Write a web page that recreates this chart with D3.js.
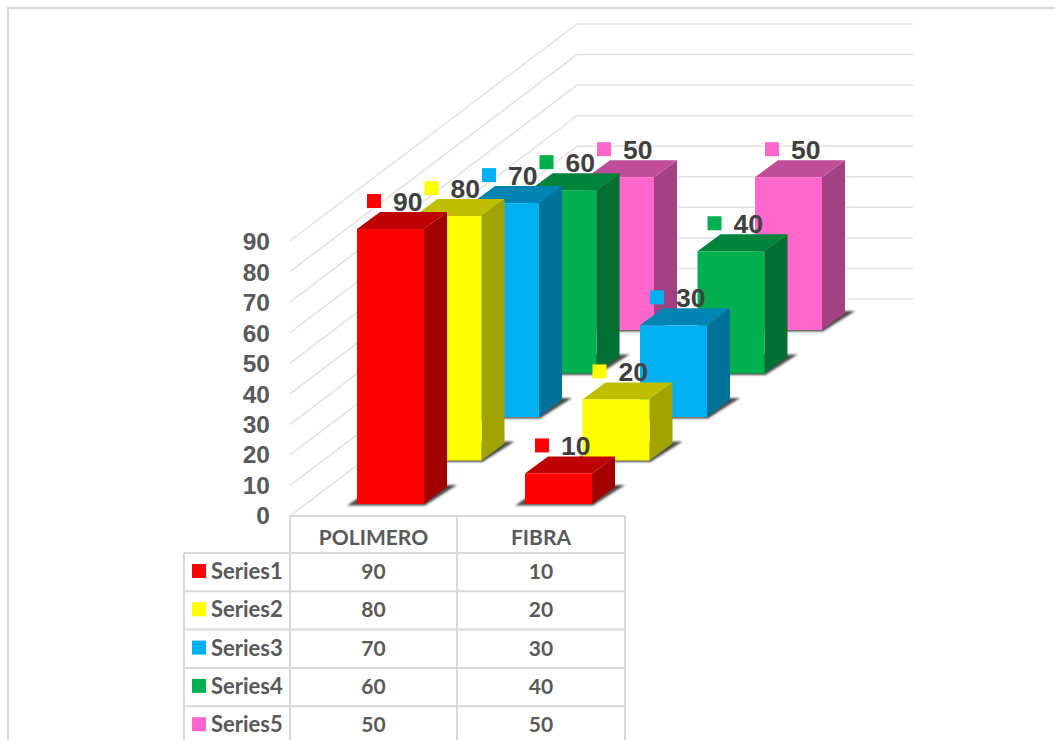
<!DOCTYPE html>
<html>
<head>
    <meta charset="utf-8">
    <title>3D Column Chart</title>
    <script src="https://d3js.org/d3.v7.min.js"></script>
    <style>
        body {
            margin: 0;
            padding: 0;
            background-color: #ffffff;
            overflow: hidden;
        }
        .table-text {
            font-family: Lato, sans-serif;
            font-weight: 700;
            font-size: 21px;
            fill: #595959;
        }
        .series-text {
            font-size: 22px;
        }
        .label-text {
            font-family: "Liberation Sans", Arial, sans-serif;
            font-weight: 700;
            font-size: 26.5px;
            fill: #404040;
        }
        .tick text {
            font-family: "Liberation Sans", Arial, sans-serif;
            font-weight: 700;
            font-size: 24.5px;
            fill: #595959;
        }
    </style>
</head>
<body>
    <div id="chart"></div>

    <script>
        var categories = ["POLIMERO", "FIBRA"];
        var seriesNames = ["Series1", "Series2", "Series3", "Series4", "Series5"];
        var polimero = [90, 80, 70, 60, 50];
        var fibra = [10, 20, 30, 40, 50];
        var seriesColors = ["#ff0000", "#ffff00", "#00b0f0", "#00b050", "#ff66cc"];
        var ticks = [0, 10, 20, 30, 40, 50, 60, 70, 80, 90];

        var width = 1055, height = 740;
        var gridColor = "#e2e2e2", tableColor = "#d9d9d9";

        var svg = d3.select("#chart")
            .append("svg")
            .attr("width", width)
            .attr("height", height)
            .style("display", "block");

        // blur for the floor shadows
        svg.append("defs").append("filter")
            .attr("id", "soft")
            .append("feGaussianBlur")
            .attr("stdDeviation", 1);

        // outer chart border, only top and left are in the picture
        svg.append("path")
            .attr("d", "M8," + height + "L8,8L" + width + ",8")
            .attr("fill", "none")
            .attr("stroke", tableColor)
            .attr("stroke-width", 2);

        // value -> height in pixels, and the shifts for category and series depth
        var heightScale = d3.scaleLinear().domain([0, 90]).range([0, 275]);
        var catScale = d3.scalePoint().domain(categories).range([357, 525]);
        var depthX = d3.scaleLinear().domain([0, 4]).range([0, 230]);
        var depthY = d3.scaleLinear().domain([0, 4]).range([504, 330]);
        var barWidth = 67, sideX = 23, sideY = 17;

        // walls
        var wall = { x0: 290, y0: 516, x1: 577, y1: 299, right: 913 };
        ticks.forEach(function(t) {
            var h = heightScale(t);
            svg.append("path")
                .attr("d", "M" + wall.x0 + "," + (wall.y0 - h) + "L" + wall.x1 + "," + (wall.y1 - h) + "L" + wall.right + "," + (wall.y1 - h))
                .attr("fill", "none")
                .attr("stroke", gridColor)
                .attr("stroke-width", 1.5);
        });

        // y axis labels
        var yAxisScale = d3.scaleLinear().domain([0, 90]).range([516, 242]);
        var yAxis = d3.axisLeft(yAxisScale).tickValues(ticks).tickSize(0).tickPadding(0);
        svg.append("g")
            .attr("transform", "translate(270,0)")
            .call(yAxis)
            .call(function(g) { g.select(".domain").remove(); });

        function poly(points) {
            return points.map(function(p) { return p.join(","); }).join(" ");
        }

        function shade(color, k) {
            var c = d3.rgb(color);
            return d3.rgb(c.r * k, c.g * k, c.b * k).formatHex();
        }

        // bars, back row first
        var barLayer = svg.append("g");
        var labelLayer = svg.append("g");
        d3.range(seriesNames.length - 1, -1, -1).forEach(function(s) {
            categories.forEach(function(cat, c) {
                var value = c === 0 ? polimero[s] : fibra[s];
                var left = catScale(cat) + depthX(s);
                var right = left + barWidth;
                var bottom = depthY(s);
                var top = bottom - heightScale(value);
                var color = seriesColors[s];

                barLayer.append("polygon")
                    .attr("points", poly([[left - 10, bottom + 1.5], [right + 1, bottom + 1.5], [right + sideX + 10, bottom - sideY - 2], [left + 20, bottom - sideY - 2]]))
                    .attr("fill", "#4d4d4d")
                    .attr("filter", "url(#soft)");
                barLayer.append("polygon")
                    .attr("points", poly([[right, top], [right + sideX, top - sideY], [right + sideX, bottom - sideY], [right, bottom]]))
                    .attr("fill", shade(color, 0.64));
                barLayer.append("polygon")
                    .attr("points", poly([[left, top], [left + sideX, top - sideY], [right + sideX, top - sideY], [right, top]]))
                    .attr("fill", shade(color, 0.75));
                barLayer.append("rect")
                    .attr("x", left)
                    .attr("y", top)
                    .attr("width", barWidth)
                    .attr("height", bottom - top)
                    .attr("fill", color);

                labelLayer.append("rect")
                    .attr("x", left + 10)
                    .attr("y", top - 35)
                    .attr("width", 14)
                    .attr("height", 14)
                    .attr("fill", color);
                labelLayer.append("text")
                    .attr("class", "label-text")
                    .attr("x", left + 36)
                    .attr("y", top - 18)
                    .text(value);
            });
        });

        // data table
        var colEdges = [184, 290, 457, 625];
        var headerTop = 516, headerBottom = 553, rowHeight = 38.3;
        var table = svg.append("g");
        var rowY = d3.scaleLinear().domain([0, 1]).range([headerBottom, headerBottom + rowHeight]);

        function tableLine(x1, y1, x2, y2) {
            table.append("line")
                .attr("x1", x1).attr("y1", y1)
                .attr("x2", x2).attr("y2", y2)
                .attr("stroke", tableColor)
                .attr("stroke-width", 2);
        }

        tableLine(colEdges[1], headerTop, colEdges[3], headerTop);
        seriesNames.forEach(function(name, i) {
            tableLine(colEdges[0], rowY(i), colEdges[3], rowY(i));
        });
        tableLine(colEdges[0], headerBottom, colEdges[0], height);
        tableLine(colEdges[1], headerTop, colEdges[1], height);
        tableLine(colEdges[2], headerTop, colEdges[2], height);
        tableLine(colEdges[3], headerTop, colEdges[3], height);

        categories.forEach(function(cat, c) {
            var cx = (colEdges[c + 1] + colEdges[c + 2]) / 2;
            table.append("text")
                .attr("class", "table-text")
                .attr("x", cx)
                .attr("y", 545)
                .attr("text-anchor", "middle")
                .text(cat);
            seriesNames.forEach(function(name, i) {
                table.append("text")
                    .attr("class", "table-text")
                    .attr("x", cx)
                    .attr("y", rowY(i) + 26)
                    .attr("text-anchor", "middle")
                    .text(c === 0 ? polimero[i] : fibra[i]);
            });
        });

        seriesNames.forEach(function(name, i) {
            table.append("rect")
                .attr("x", 192)
                .attr("y", rowY(i) + 11)
                .attr("width", 14)
                .attr("height", 14)
                .attr("fill", seriesColors[i]);
            table.append("text")
                .attr("class", "table-text series-text")
                .attr("x", 211)
                .attr("y", rowY(i) + 26)
                .text(name);
        });
    </script>
</body>
</html>
